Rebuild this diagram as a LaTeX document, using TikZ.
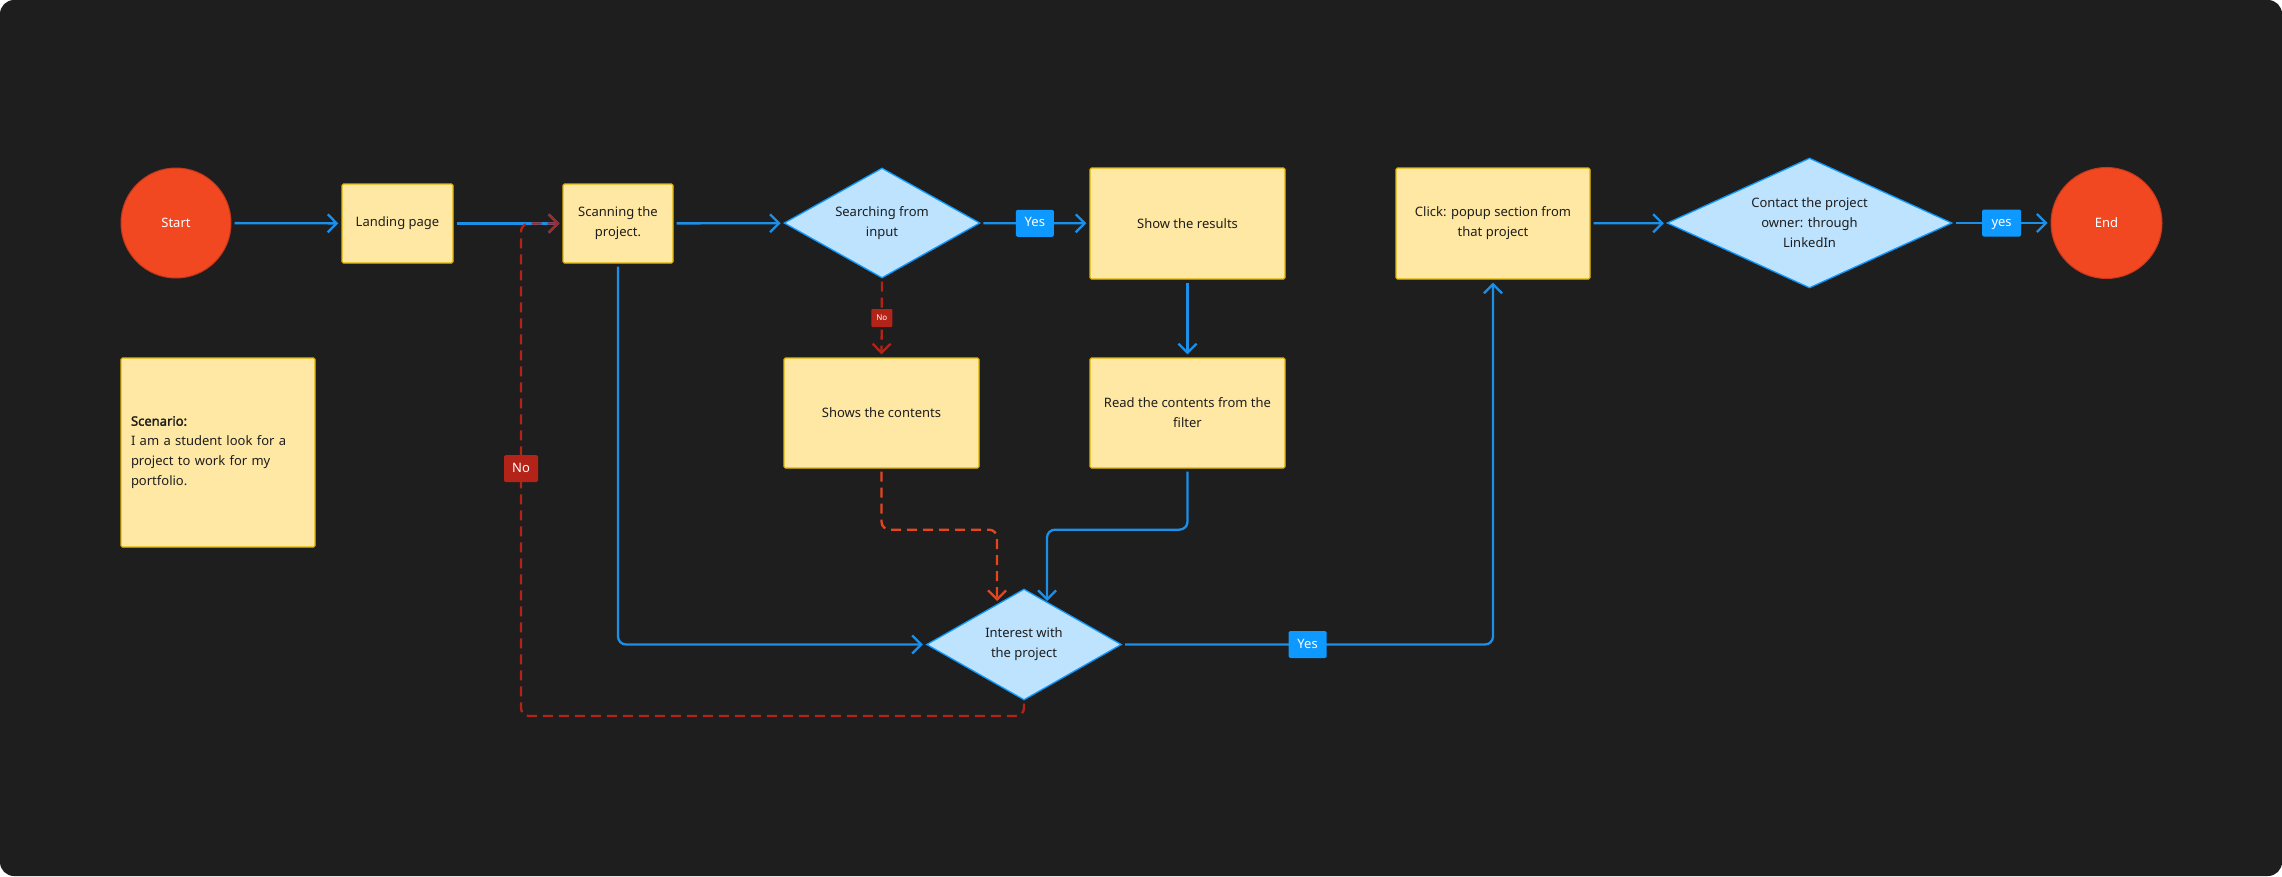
\documentclass[tikz,border=0pt]{standalone}
\usepackage{fontspec}
\setmainfont{Noto Sans}[AutoFakeBold=2]
\usetikzlibrary{shapes.geometric,arrows.meta,calc}
\definecolor{bgc}{HTML}{1E1E1E}
\definecolor{lineblue}{HTML}{1C8FE8}
\definecolor{tagblue}{HTML}{0D99FF}
\definecolor{darkred}{HTML}{B42318}
\definecolor{orred}{HTML}{E5461F}
\definecolor{stickyfill}{HTML}{FFE8A3}
\definecolor{stickyline}{HTML}{E0B400}
\definecolor{dfill}{HTML}{BDE3FF}
\definecolor{dline}{HTML}{0D99FF}
\definecolor{cfill}{HTML}{F24822}
\definecolor{cline}{HTML}{C9381A}
\definecolor{txt}{HTML}{1E1E1E}
\newcommand{\fsz}{\fontsize{13}{20}\selectfont}
\newcommand{\tagfsz}{\fontsize{13}{15}\selectfont}
\newcommand{\tinyfsz}{\fontsize{8}{9}\selectfont}
\begin{document}
\begin{tikzpicture}[x=1pt,y=-1pt,
  stickybox/.style={rectangle, fill=stickyfill, draw=stickyline, line width=1.3pt, rounded corners=1.5pt, text=txt, font=\fsz, align=center, inner sep=0pt},
  decision/.style={diamond, fill=dfill, draw=dline, line width=1.3pt, text=txt, font=\fsz, align=center, inner sep=0pt},
  terminal/.style={circle, fill=cfill, draw=cline, line width=1pt, text=white, font=\fsz, minimum size=110pt, inner sep=0pt},
  flow/.style={draw=lineblue, line width=2.3pt, rounded corners=8pt, shorten <=3pt, shorten >=3pt, -{Straight Barb[length=9pt,width=18pt]}},
  redflow/.style={draw=darkred, line width=2.3pt, rounded corners=8pt, dash pattern=on 10pt off 6pt, shorten <=3pt, shorten >=3pt, -{Straight Barb[length=9pt,width=18pt]}},
  orflow/.style={redflow, draw=orred},
  tagyes/.style={fill=tagblue, text=white, font=\tagfsz, rounded corners=1.5pt, minimum width=38pt, minimum height=27pt, inner sep=0pt, text height=9.5pt, text depth=2.5pt},
  tagno/.style={fill=darkred, text=white, font=\tagfsz, rounded corners=1.5pt, minimum width=34pt, minimum height=27pt, inner sep=0pt, text height=9.5pt, text depth=2.5pt},
  tagsmall/.style={fill=darkred, text=white, font=\tinyfsz, rounded corners=1pt, minimum width=21pt, minimum height=18pt, inner sep=0pt}
]
\fill[white] (0,0) rectangle (2282,876);
\fill[bgc, rounded corners=14pt] (0,0) rectangle (2282,876);
\useasboundingbox (0,0) rectangle (2282,876);

% nodes
\node[terminal] (start) at (176,223) {Start};
\node[stickybox, minimum width=111pt, minimum height=79pt] (landing) at (397.5,223.5) {Landing page};
\node[stickybox, minimum width=110pt, minimum height=79pt] (scanning) at (618,223.5) {Scanning the\\project.};
\node[decision, minimum width=196pt, minimum height=110pt, shape aspect=1.78] (search) at (882,223) {Searching from\\input};
\node[stickybox, minimum width=195pt, minimum height=111pt] (results) at (1187.5,223.5) {Show the results};
\node[stickybox, minimum width=195pt, minimum height=110pt] (shows) at (881.5,413) {Shows the contents};
\node[stickybox, minimum width=195pt, minimum height=110pt] (read) at (1187.5,413) {Read the contents from the\\filter};
\node[decision, minimum width=195pt, minimum height=111pt, shape aspect=1.76] (interest) at (1024,644.5) {Interest with\\the project};
\node[stickybox, minimum width=194pt, minimum height=111pt] (click) at (1493,223.5) {Click: popup section from\\that project};
\node[decision, minimum width=285pt, minimum height=130pt, shape aspect=2.19] (contact) at (1809.5,223) {Contact the project\\owner: through\\LinkedIn};
\node[terminal, minimum size=111pt] (end) at (2106.5,223) {End};
\node[stickybox, minimum width=194pt, minimum height=189pt, text width=174pt, align=left] (scenario) at (218,452.5) {\textbf{Scenario:}\\I am a student look for a\\project to work for my\\portfolio.};

% helper coordinates
\coordinate (in1) at (997,601);
\coordinate (in2) at (1047,601);
\coordinate (loopA) at (521,716);

% connectors
\draw[flow] (start) -- (landing);
\draw[flow] (landing) -- (scanning);
\draw[flow] (scanning) -- (search);
\draw[flow] (search) -- node[tagyes] (yes1) {Yes} (results);
\draw[redflow] (search.south) -- node[tagsmall] (no1) {No} (shows.north);
\draw[flow] (results) -- (read);
\draw[flow] (scanning.south) |- (interest.west);
\draw[orflow, shorten >=0pt] (shows.south) -- ++(0,61) -| (in1);
\draw[flow, shorten >=0pt] (read.south) -- ++(0,61) -| (in2);
\draw[flow] (interest.east) -| node[tagyes, pos=0.25] (yes2) {Yes} (click.south);
\draw[flow] (click) -- (contact);
\draw[flow] (contact.east) -- node[tagyes, minimum width=39pt] (yes3) {yes} (end);
\draw[redflow] (interest.south) |- (loopA) |- (scanning.west);
\node[tagno] (no2) at (521,468.5) {No};
\end{tikzpicture}
\end{document}
